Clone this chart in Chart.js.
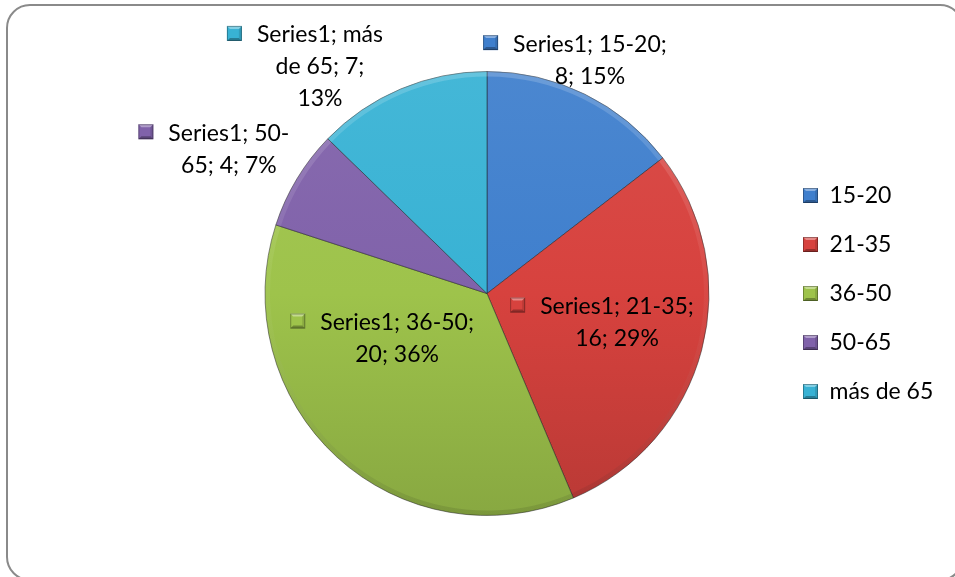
<!DOCTYPE html>
<html><head><meta charset="utf-8">
<script src="https://cdn.jsdelivr.net/npm/chart.js@4.4.1/dist/chart.umd.min.js"></script>
<style>html,body{margin:0;padding:0;background:#fff;overflow:hidden}#wrap{width:955px;height:577px;position:relative}</style>
</head><body><div id="wrap"><canvas id="c" width="955" height="577"></canvas></div>
<script>
// ---- data ----
const seriesName = 'Series1';
const categories = ['15-20', '21-35', '36-50', '50-65', 'más de 65'];
const values = [8, 16, 20, 4, 7];

// ---- style / placement ----
const colors = ['#3F7FCD', '#D7423E', '#9EC34B', '#8062AA', '#38B2D4'];
const labelAngles = [23.8, 102.6, 243.4, 299.2, 323.6];   // deg clockwise from top
const labelDist = [1.149, 0.600, 0.453, 1.332, 1.268];   // fraction of radius
const labelWrap = [160, 160, 160, 125, 130];
const FONT_SIZE = 23;
const FONT_FAMILY = 'Lato';
const LINE_H = 32;

const total = values.reduce((a, b) => a + b, 0);
const pct = values.map(v => Math.round(v / total * 100));

function shade(hex, f) {
  const n = parseInt(hex.slice(1), 16);
  let r = (n >> 16) & 255, g = (n >> 8) & 255, b = n & 255;
  if (f >= 0) { r += (255 - r) * f; g += (255 - g) * f; b += (255 - b) * f; }
  else { r *= 1 + f; g *= 1 + f; b *= 1 + f; }
  return `rgb(${Math.round(r)},${Math.round(g)},${Math.round(b)})`;
}

function wrapText(ctx, text, maxW) {
  const tokens = text.split(/(?<=[ \-])/);
  const lines = [];
  let cur = '';
  for (const t of tokens) {
    const test = cur + t;
    if (cur && ctx.measureText(test.trimEnd()).width > maxW) {
      lines.push(cur.trimEnd());
      cur = t;
    } else cur = test;
  }
  if (cur) lines.push(cur.trimEnd());
  return lines;
}

function drawMarker(ctx, x, y, s, color) {
  ctx.save();
  ctx.fillStyle = color;
  ctx.fillRect(x, y, s, s);
  const i = 3;
  ctx.fillStyle = 'rgba(255,255,255,0.38)';
  ctx.beginPath(); ctx.moveTo(x, y); ctx.lineTo(x + s, y); ctx.lineTo(x + s - i, y + i); ctx.lineTo(x + i, y + i); ctx.closePath(); ctx.fill();
  ctx.fillStyle = 'rgba(0,0,0,0.30)';
  ctx.beginPath(); ctx.moveTo(x, y + s); ctx.lineTo(x + s, y + s); ctx.lineTo(x + s - i, y + s - i); ctx.lineTo(x + i, y + s - i); ctx.closePath(); ctx.fill();
  ctx.fillStyle = 'rgba(0,0,0,0.12)';
  ctx.beginPath(); ctx.moveTo(x + s, y); ctx.lineTo(x + s, y + s); ctx.lineTo(x + s - i, y + s - i); ctx.lineTo(x + s - i, y + i); ctx.closePath(); ctx.fill();
  ctx.strokeStyle = 'rgba(0,0,0,0.3)'; ctx.lineWidth = 1;
  ctx.strokeRect(x + 0.5, y + 0.5, s - 1, s - 1);
  ctx.restore();
}

function markerCanvas(color, s) {
  const c = document.createElement('canvas');
  c.width = s; c.height = s;
  drawMarker(c.getContext('2d'), 0, 0, s, color);
  return c;
}

const framePlugin = {
  id: 'frame',
  beforeDraw(chart) {
    const ctx = chart.ctx;
    ctx.save();
    ctx.fillStyle = '#fff';
    ctx.fillRect(0, 0, chart.width, chart.height);
    ctx.strokeStyle = '#8a8a8a';
    ctx.lineWidth = 2;
    ctx.beginPath();
    ctx.roundRect(7, 5, 956, 575, 23);
    ctx.stroke();
    ctx.restore();
  }
};

// subtle bevel shading on each slice
const bevelPlugin = {
  id: 'bevel',
  afterDatasetsDraw(chart) {
    const ctx = chart.ctx;
    const meta = chart.getDatasetMeta(0);
    meta.data.forEach((arc) => {
      const {x, y, startAngle, endAngle, outerRadius} = arc.getProps(['x', 'y', 'startAngle', 'endAngle', 'outerRadius']);
      ctx.save();
      ctx.beginPath();
      ctx.moveTo(x, y);
      ctx.arc(x, y, outerRadius, startAngle, endAngle);
      ctx.closePath();
      ctx.clip();
      const g = ctx.createLinearGradient(0, y - outerRadius, 0, y + outerRadius);
      g.addColorStop(0, 'rgba(255,255,255,0.18)');
      g.addColorStop(0.5, 'rgba(255,255,255,0.04)');
      g.addColorStop(1, 'rgba(0,0,0,0.10)');
      ctx.strokeStyle = g;
      ctx.lineWidth = 10;
      ctx.beginPath();
      ctx.arc(x, y, outerRadius, startAngle, endAngle);
      ctx.stroke();
      ctx.restore();
    });
  }
};

const labelPlugin = {
  id: 'sliceLabels',
  afterDatasetsDraw(chart) {
    const ctx = chart.ctx;
    const meta = chart.getDatasetMeta(0);
    ctx.save();
    ctx.font = FONT_SIZE + 'px ' + FONT_FAMILY;
    ctx.fillStyle = '#000';
    ctx.textAlign = 'center';
    ctx.textBaseline = 'middle';
    meta.data.forEach((arc, i) => {
      const cx = arc.x, cy = arc.y, R = arc.outerRadius;
      const text = `${seriesName}; ${categories[i]}; ${values[i]}; ${pct[i]}%`;
      const lines = wrapText(ctx, text, labelWrap[i]);
      const a = labelAngles[i] * Math.PI / 180;
      const px = cx + Math.sin(a) * R * labelDist[i];
      const py = cy - Math.cos(a) * R * labelDist[i];
      const top = py - (lines.length - 1) * LINE_H / 2;
      lines.forEach((l, j) => ctx.fillText(l, px, top + j * LINE_H));
      const w0 = ctx.measureText(lines[0]).width;
      drawMarker(ctx, px - w0 / 2 - 30, top - 9, 15, colors[i]);
    });
    ctx.restore();
  }
};

// legend geometry
const LEG_PAD = 26, LEG_BOX = 15;
const mctx = document.createElement('canvas').getContext('2d');
mctx.font = FONT_SIZE + 'px ' + FONT_FAMILY;
const maxTextW = Math.max(...categories.map(c => mctx.measureText(c).width));
const legendW = LEG_PAD + LEG_BOX + FONT_SIZE / 2 + maxTextW + 10;
const legendLeft = 803 - LEG_PAD;
const pieCX = 487;
const padRight = 955 - legendLeft - legendW;
const padLeft = 2 * pieCX - legendLeft;
const legendMarkers = colors.map(c => markerCanvas(c, 15));

function sliceFill(context) {
  const i = context.dataIndex;
  const base = colors[i];
  const area = context.chart.chartArea;
  if (!area) return base;
  const g = context.chart.ctx.createLinearGradient(0, area.top, 0, area.bottom);
  g.addColorStop(0, shade(base, 0.06));
  g.addColorStop(0.5, base);
  g.addColorStop(1, shade(base, -0.14));
  return g;
}

new Chart(document.getElementById('c'), {
  type: 'pie',
  data: {
    labels: categories,
    datasets: [{
      label: seriesName,
      data: values,
      backgroundColor: sliceFill,
      borderColor: 'rgba(30,30,30,0.5)',
      borderWidth: 1,
      hoverOffset: 0,
      offset: 0
    }]
  },
  options: {
    responsive: false,
    animation: false,
    events: [],
    layout: { padding: { left: padLeft, right: padRight, top: 71, bottom: 61 } },
    plugins: {
      tooltip: { enabled: false },
      legend: {
        position: 'right',
        align: 'center',
        labels: {
          font: { family: FONT_FAMILY, size: FONT_SIZE },
          color: '#000',
          boxWidth: LEG_BOX,
          boxHeight: LEG_BOX,
          padding: LEG_PAD,
          usePointStyle: true,
          generateLabels(chart) {
            return categories.map((c, i) => ({
              text: c,
              fillStyle: colors[i],
              strokeStyle: colors[i],
              lineWidth: 0,
              pointStyle: legendMarkers[i],
              hidden: false,
              index: i
            }));
          }
        }
      }
    }
  },
  plugins: [framePlugin, bevelPlugin, labelPlugin]
});
</script>
</body></html>
